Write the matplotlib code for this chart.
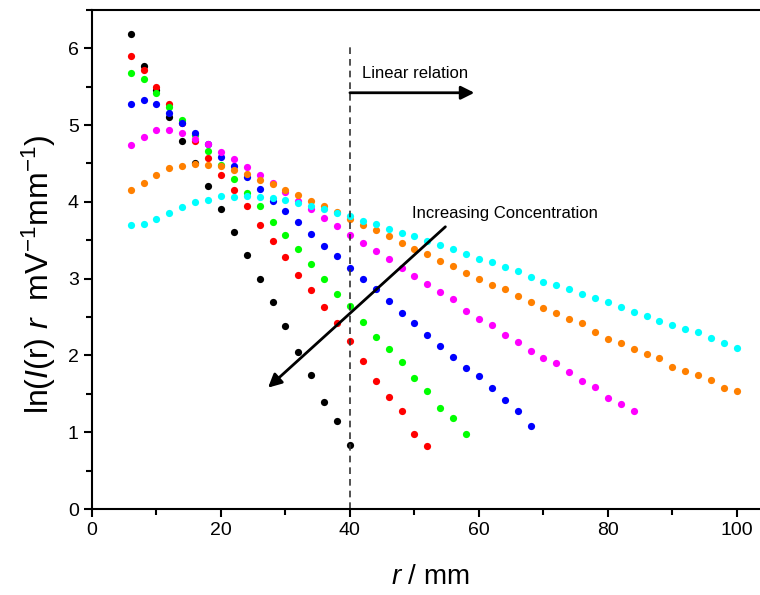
import numpy as np
import matplotlib
matplotlib.use("Agg")
import matplotlib.pyplot as plt
from matplotlib.ticker import MultipleLocator

plt.rcParams['font.family'] = ['Liberation Sans', 'DejaVu Sans']
plt.rcParams['mathtext.fontset'] = 'custom'
plt.rcParams['mathtext.rm'] = 'Liberation Sans'
plt.rcParams['mathtext.it'] = 'Liberation Sans:italic'

# r positions (mm), every 2 mm from 6
r_black = np.arange(6, 41, 2)
r_red = np.arange(6, 53, 2)
r_green = np.arange(6, 59, 2)
r_blue = np.arange(6, 69, 2)
r_magenta = np.arange(6, 85, 2)
r_orange = np.arange(6, 101, 2)
r_cyan = np.arange(6, 101, 2)

y_black = [6.18, 5.77, 5.45, 5.10, 4.79, 4.50, 4.20, 3.90, 3.61, 3.31,
           2.99, 2.69, 2.38, 2.05, 1.75, 1.40, 1.14, 0.84]
y_red = [5.90, 5.72, 5.50, 5.27, 5.02, 4.79, 4.57, 4.35, 4.15, 3.94,
         3.70, 3.49, 3.28, 3.05, 2.85, 2.63, 2.42, 2.19, 1.93, 1.67,
         1.46, 1.27, 0.98, 0.82]
y_green = [5.68, 5.60, 5.42, 5.24, 5.06, 4.87, 4.66, 4.48, 4.30, 4.12,
           3.94, 3.74, 3.57, 3.38, 3.19, 3.00, 2.80, 2.64, 2.43, 2.24,
           2.08, 1.91, 1.71, 1.54, 1.32, 1.19, 0.98]
y_blue = [5.27, 5.33, 5.27, 5.16, 5.03, 4.89, 4.75, 4.59, 4.46, 4.32,
          4.17, 4.01, 3.88, 3.74, 3.58, 3.42, 3.29, 3.14, 3.00, 2.86,
          2.71, 2.55, 2.42, 2.27, 2.12, 1.98, 1.83, 1.73, 1.58, 1.42,
          1.27, 1.08]
y_magenta = [4.74, 4.84, 4.93, 4.93, 4.90, 4.82, 4.75, 4.65, 4.56, 4.45,
             4.35, 4.25, 4.13, 4.01, 3.90, 3.79, 3.68, 3.57, 3.47, 3.36,
             3.25, 3.14, 3.03, 2.93, 2.82, 2.73, 2.58, 2.48, 2.40, 2.27,
             2.18, 2.06, 1.96, 1.90, 1.78, 1.67, 1.59, 1.45, 1.37, 1.28]
y_orange = [4.15, 4.24, 4.35, 4.44, 4.47, 4.49, 4.48, 4.46, 4.41, 4.36,
            4.29, 4.23, 4.16, 4.09, 4.01, 3.94, 3.87, 3.78, 3.70, 3.63,
            3.55, 3.47, 3.39, 3.32, 3.23, 3.16, 3.07, 3.00, 2.92, 2.86,
            2.77, 2.69, 2.62, 2.55, 2.47, 2.42, 2.30, 2.22, 2.16, 2.09,
            2.02, 1.96, 1.85, 1.80, 1.74, 1.68, 1.58, 1.54]
y_cyan = [3.70, 3.71, 3.78, 3.85, 3.93, 4.00, 4.03, 4.07, 4.06, 4.07,
          4.06, 4.05, 4.02, 3.99, 3.94, 3.90, 3.86, 3.81, 3.75, 3.71,
          3.65, 3.59, 3.56, 3.49, 3.44, 3.38, 3.32, 3.26, 3.21, 3.15,
          3.10, 3.02, 2.96, 2.92, 2.87, 2.80, 2.75, 2.69, 2.63, 2.57,
          2.51, 2.45, 2.39, 2.34, 2.30, 2.23, 2.16, 2.10]

series = [
    (r_black, y_black, '#000000'),
    (r_red, y_red, '#ff0000'),
    (r_green, y_green, '#00ff00'),
    (r_blue, y_blue, '#0000ff'),
    (r_magenta, y_magenta, '#ff00ff'),
    (r_orange, y_orange, '#ff8000'),
    (r_cyan, y_cyan, '#00ffff'),
]

fig = plt.figure(figsize=(7.6, 5.95), dpi=100)
ax = fig.add_axes([0.121, 0.1445, 0.891, 0.839])

for xs, ys, c in series:
    ax.plot(xs, ys, 'o', color=c, markersize=5.2, markeredgewidth=0)

ax.set_xlim(0, 105)
ax.set_ylim(0, 6.5)

# dashed marker at r = 40
ax.plot([40, 40], [0, 6.05], '--', color='#333333', lw=1.2, dashes=(4, 3))

ax.annotate('', xy=(59.3, 5.42), xytext=(40, 5.42),
            arrowprops=dict(arrowstyle='-|>', color='black', lw=2,
                            mutation_scale=20, shrinkA=0, shrinkB=0))
ax.text(41.9, 5.61, 'Linear relation', fontsize=12, va='baseline')

ax.annotate('', xy=(27.3, 1.58), xytext=(54.8, 3.675),
            arrowprops=dict(arrowstyle='-|>', color='black', lw=2,
                            mutation_scale=20, shrinkA=0, shrinkB=0))
ax.text(49.6, 3.79, 'Increasing Concentration', fontsize=12, va='baseline')

ax.xaxis.set_major_locator(MultipleLocator(20))
ax.xaxis.set_minor_locator(MultipleLocator(10))
ax.yaxis.set_major_locator(MultipleLocator(1))
ax.yaxis.set_minor_locator(MultipleLocator(0.5))
ax.tick_params(which='both', direction='out', width=1.5, labelsize=14,
               top=False, right=False)
ax.tick_params(which='major', length=6)
ax.tick_params(which='minor', length=4)
for s in ax.spines.values():
    s.set_linewidth(1.5)

ax.set_xlabel(r'$\it{r}$ / mm', fontsize=20, labelpad=18)
ax.set_ylabel(r'ln($\it{I}$(r) $\it{r}$  mV$^{\mathrm{-1}}$mm$^{\mathrm{-1}}$)',
              fontsize=23)
ax.yaxis.set_label_coords(-0.05, 0.47)

fig.savefig('out.png', dpi=100)
